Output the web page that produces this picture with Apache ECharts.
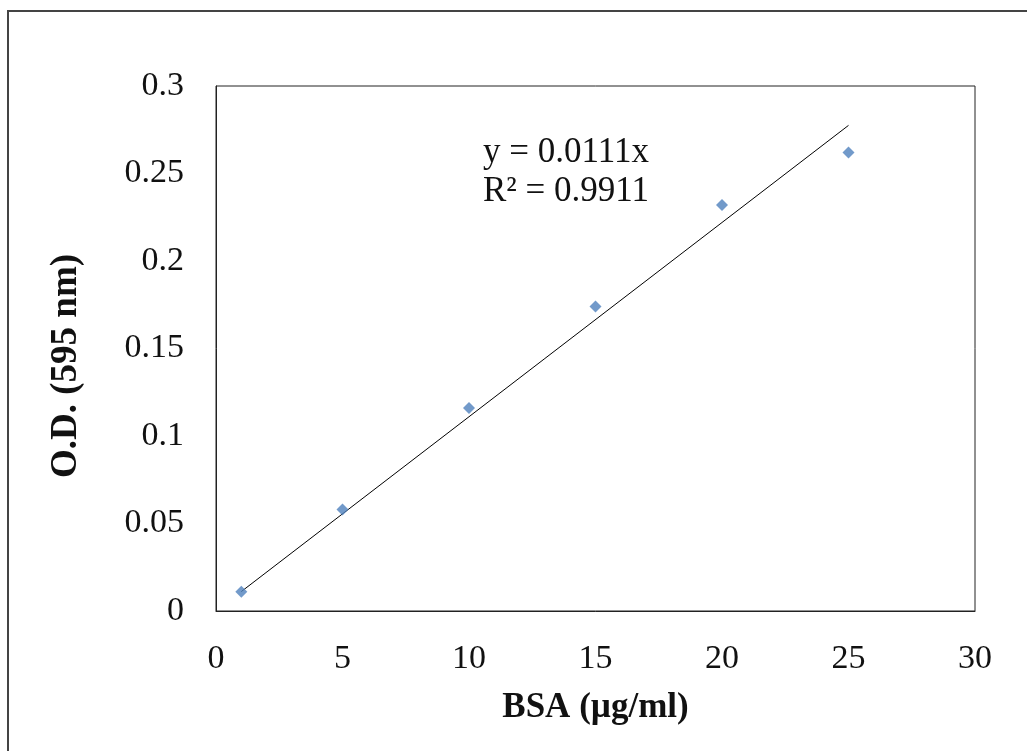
<!DOCTYPE html>
<html>
<head>
<meta charset="utf-8">
<script src="https://cdn.jsdelivr.net/npm/echarts@6/dist/echarts.min.js"></script>
<style>
html,body{margin:0;padding:0;background:#fff;}
#c{width:1027px;height:751px;}
</style>
</head>
<body>
<div id="c"></div>
<script>
// Data
const bsaConc = [1, 5, 10, 15, 20, 25];
const odValues = [0.011, 0.058, 0.116, 0.174, 0.232, 0.262];
const trendSlope = 0.0111;
const trendX = [1, 25];
const equationText = 'y = 0.0111x';
const r2Text = 'R² = 0.9911';
const xTitle = 'BSA (µg/ml)';
const yTitle = 'O.D. (595 nm)';

const serif = '"Liberation Serif", "DejaVu Serif", serif';
const chart = echarts.init(document.getElementById('c'), null, {renderer: 'canvas'});
chart.setOption({
  backgroundColor: '#fff',
  animation: false,
  grid: {left: 216, right: 52, top: 86, bottom: 140, show: true, borderColor: '#222', borderWidth: 1},
  xAxis: {
    type: 'value', min: 0, max: 30, interval: 5,
    axisLine: {show: true, lineStyle: {color: '#222'}},
    axisTick: {show: false},
    splitLine: {show: false},
    axisLabel: {color: '#111', fontFamily: serif, fontSize: 34, margin: 31},
    name: xTitle, nameLocation: 'middle', nameGap: 79,
    nameTextStyle: {color: '#111', fontFamily: serif, fontSize: 35, fontWeight: 'bold'}
  },
  yAxis: {
    type: 'value', min: 0, max: 0.3, interval: 0.05,
    axisLine: {show: true, lineStyle: {color: '#222'}},
    axisTick: {show: false},
    splitLine: {show: false},
    axisLabel: {color: '#111', fontFamily: serif, fontSize: 34, margin: 32,
      padding: [6, 0, 0, 0]}
  },
  graphic: [
    {type: 'rect', shape: {x: 8, y: 11, width: 3000, height: 3000}, style: {fill: 'none', stroke: '#444', lineWidth: 2}, z: 100},
    {type: 'text', x: 66, y: 366, rotation: Math.PI / 2,
      style: {text: yTitle, font: 'bold 37px ' + serif, fill: '#111', align: 'center', verticalAlign: 'middle'}},
    {type: 'text', left: 483, top: 135, style: {text: equationText, font: '35px ' + serif, fill: '#111'}},
    {type: 'text', left: 483, top: 174, style: {text: r2Text, font: '35px ' + serif, fill: '#111'}}
  ],
  series: [
    {
      type: 'line',
      data: trendX.map(x => [x, trendSlope * x]),
      symbol: 'none',
      lineStyle: {color: '#000', width: 1},
      z: 1
    },
    {
      type: 'scatter',
      data: bsaConc.map((x, i) => [x, odValues[i]]),
      symbol: 'diamond',
      symbolSize: [12, 12],
      itemStyle: {color: '#4F81BD'},
      z: 2
    }
  ]
});
</script>
</body>
</html>
